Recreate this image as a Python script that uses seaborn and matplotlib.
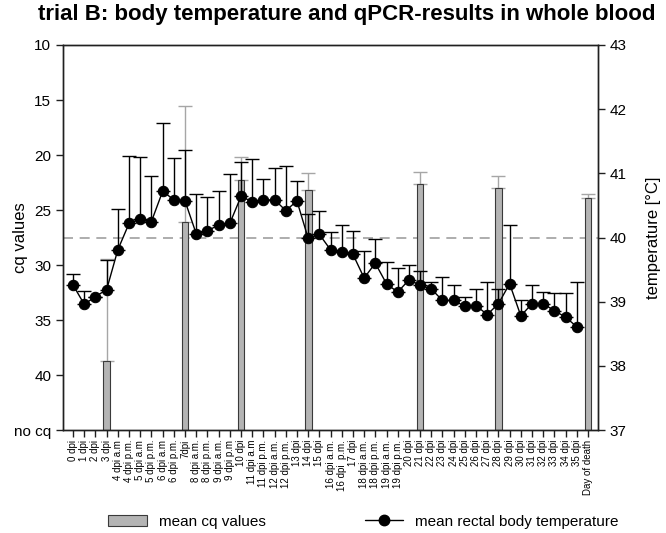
import numpy as np
import pandas as pd
import matplotlib
matplotlib.use("Agg")
import matplotlib.pyplot as plt
import seaborn as sns
from matplotlib.patches import Patch
from matplotlib.lines import Line2D

nan = np.nan

day_labels = ["0 dpi", "1 dpi", "2 dpi", "3 dpi", "4 dpi a.m", "4 dpi p.m.", "5 dpi a.m",
              "5 dpi p.m.", "6 dpi a.m", "6 dpi p.m.", "7dpi", "8 dpi a.m.", "8 dpi p.m.",
              "9 dpi a.m.", "9 dpi p.m", "10 dpi", "11 dpi a.m", "11 dpi p.m.", "12 dpi a.m.",
              "12 dpi p.m.", "13 dpi", "14 dpi", "15 dpi", "16 dpi a.m.", "16 dpi  p.m.",
              "17 dpi", "18 dpi a.m.", "18 dpi p.m.", "19 dpi a.m.", "19 dpi p.m.", "20 dpi",
              "21 dpi", "22 dpi", "23 dpi", "24 dpi", "25 dpi", "26 dpi", "27 dpi", "28 dpi",
              "29 dpi", "30 dpi", "31 dpi", "32 dpi", "33 dpi", "34 dpi", "35 dpi", "Day of death"]

cq_mean = [nan, nan, nan, 38.7, nan, nan, nan, nan, nan, nan, 26.1, nan, nan, nan, nan, 22.3,
           nan, nan, nan, nan, nan, 23.2, nan, nan, nan, nan, nan, nan, nan, nan, nan, 22.6,
           nan, nan, nan, nan, nan, nan, 23.0, nan, nan, nan, nan, nan, nan, nan, 23.9]
cq_err = [0, 0, 0, 9.25, 0, 0, 0, 0, 0, 0, 10.6, 0, 0, 0, 0, 2.1,
          0, 0, 0, 0, 0, 1.6, 0, 0, 0, 0, 0, 0, 0, 0, 0, 1.05,
          0, 0, 0, 0, 0, 0, 1.1, 0, 0, 0, 0, 0, 0, 0, 0.35]

temp_mean = [39.26, 38.96, 39.08, 39.19, 39.81, 40.22, 40.29, 40.25, 40.72, 40.59, 40.57,
             40.06, 40.10, 40.20, 40.22, 40.64, 40.56, 40.58, 40.59, 40.42, 40.57, 39.99,
             40.05, 39.81, 39.77, 39.74, 39.37, 39.60, 39.28, 39.15, 39.34, 39.26, 39.20,
             39.02, 39.02, 38.93, 38.94, 38.80, 38.97, 39.28, 38.78, 38.97, 38.97, 38.86,
             38.76, 38.61, nan]
temp_err = [0.17, 0.20, 0.0, 0.46, 0.64, 1.05, 0.97, 0.71, 1.07, 0.65, 0.80,
            0.62, 0.53, 0.52, 0.77, 0.53, 0.67, 0.34, 0.50, 0.69, 0.31, 0.38,
            0.37, 0.27, 0.43, 0.36, 0.42, 0.38, 0.34, 0.38, 0.23, 0.22, 0.11,
            0.37, 0.24, 0.15, 0.26, 0.50, 0.23, 0.91, 0.25, 0.29, 0.18, 0.28,
            0.38, 0.70, 0.0]

cq_ticks = [10, 15, 20, 25, 30, 35, 40, 45]
cq_ticklabels = ["10", "15", "20", "25", "30", "35", "40", "no cq"]
no_cq = 45

sns.set_theme(style="ticks")
plt.rcParams["font.family"] = ["Liberation Sans", "DejaVu Sans"]
plt.rcParams["text.color"] = "black"
plt.rcParams["axes.labelcolor"] = "black"
plt.rcParams["xtick.color"] = "black"
plt.rcParams["ytick.color"] = "black"

pos = np.arange(len(day_labels))
cq_arr = np.array(cq_mean, dtype=float)
df_cq = pd.DataFrame({"day": day_labels, "height": no_cq - cq_arr})
df_t = pd.DataFrame({"pos": pos, "temp": np.array(temp_mean, dtype=float)})

fig = plt.figure(figsize=(6.66, 5.33), dpi=100)
ax = fig.add_axes([0.0946, 0.193, 0.8034, 0.7226])

bar_color = "#b4b4b4"
edge_color = "#3a3a3a"
sns.barplot(data=df_cq, x="day", y="height", order=day_labels, color=bar_color,
            saturation=1, edgecolor=edge_color, linewidth=0.8, width=0.6,
            errorbar=None, ax=ax, zorder=2)
ax.errorbar(pos, no_cq - cq_arr, yerr=[np.zeros(len(pos)), np.array(cq_err)], fmt="none",
            ecolor="#a6a6a6", elinewidth=1, capsize=5, capthick=1, zorder=1.5)

# threshold line (40 °C == cq 27.5)
ax.axhline(no_cq - 27.5, color="#a0a0a0", linestyle=(0, (6, 4)), linewidth=1.2, zorder=0.5)

ax.set_ylim(0, no_cq - 10)
ax.set_yticks([no_cq - t for t in cq_ticks])
ax.set_yticklabels(cq_ticklabels)
ax.set_xlim(-0.9, len(day_labels) - 0.1)
ax.set_xticks(pos)
ax.set_xticklabels(day_labels, rotation=90, fontsize=7)
ax.set_xlabel("")
ax.set_ylabel("cq values", fontsize=12)
ax.yaxis.set_label_coords(-0.065, 0.5)
ax.tick_params(axis="y", labelsize=11, length=5, width=1, color="#202020")
ax.tick_params(axis="x", length=5, width=1, pad=2, color="#202020")

ax2 = ax.twinx()
ax2.errorbar(pos, df_t["temp"], yerr=[np.zeros(len(pos)), np.array(temp_err)], fmt="none",
             ecolor="black", elinewidth=1, capsize=5, capthick=1, zorder=2)
sns.lineplot(data=df_t, x="pos", y="temp", ax=ax2, color="black", marker="o",
             markersize=7.5, markeredgecolor="black", linewidth=1, zorder=3)
ax2.set_ylim(37, 43)
ax2.set_yticks([37, 38, 39, 40, 41, 42, 43])
ax2.set_ylabel("temperature [°C]", fontsize=12, labelpad=14)
ax2.set_xlabel("")
ax2.set_xlim(-0.9, len(day_labels) - 0.1)
ax2.tick_params(axis="y", labelsize=11, length=5, width=1, color="#202020")

for a in (ax, ax2):
    for s in a.spines.values():
        s.set_color("#202020")
        s.set_linewidth(1)

fig.text(0.521, 0.972, "trial B: body temperature and qPCR-results in whole blood",
         ha="center", va="center", fontsize=16, fontweight="bold")

handles = [Patch(facecolor=bar_color, edgecolor=edge_color, linewidth=0.8),
           Line2D([], [], color="black", marker="o", markersize=7.5, linewidth=1)]
fig.legend(handles, ["mean cq values", "mean rectal body temperature"], loc="center",
           bbox_to_anchor=(0.546, 0.021), ncol=2, frameon=False, fontsize=11,
           handlelength=2.5, columnspacing=6.5, handletextpad=0.8)

fig.savefig("out.png", dpi=100)
